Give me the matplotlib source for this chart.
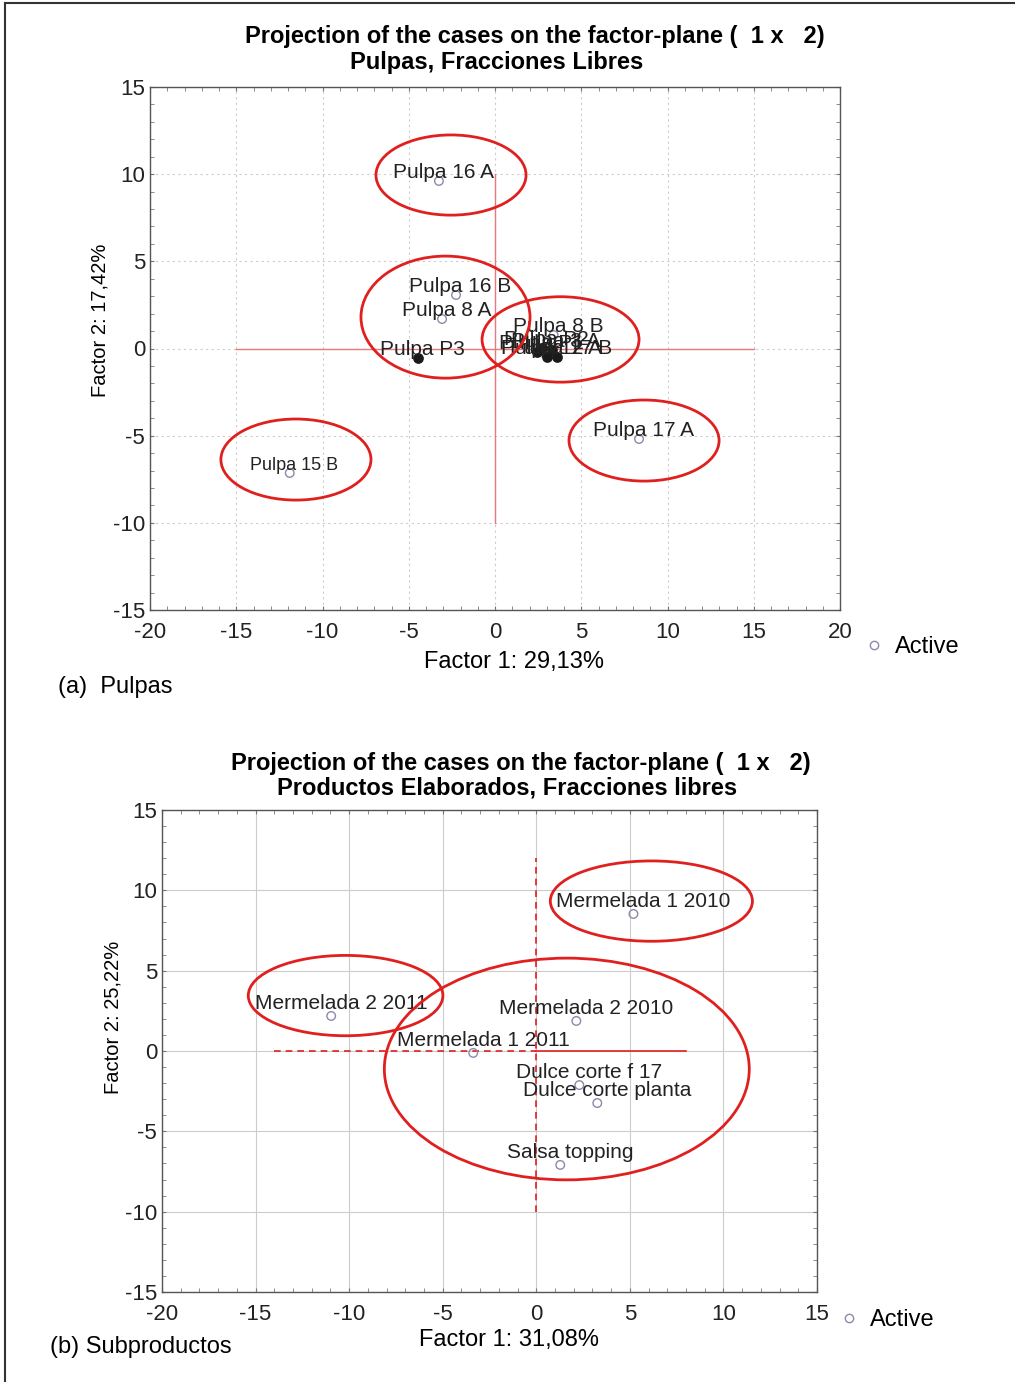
import matplotlib
matplotlib.use("Agg")
import matplotlib.pyplot as plt
from matplotlib.patches import Ellipse
from matplotlib.lines import Line2D
from matplotlib.ticker import MultipleLocator

plt.rcParams['font.family'] = ['Liberation Sans', 'DejaVu Sans']
plt.rcParams['axes.unicode_minus'] = False

# --- (a) Pulpas ---
pulp_open_names = ["Pulpa 16 A", "Pulpa 16 B", "Pulpa 8 A", "Pulpa 15 B", "Pulpa 17 A", "Pulpa 8 B"]
pulp_open_f1 = [-3.25, -2.26, -3.07, -11.9, 8.35, 3.4]
pulp_open_f2 = [9.61, 3.07, 1.69, -7.14, -5.19, 0.77]
pulp_fill_names = ["Pulpa P3", "Pulpa P1", "Pulpa 12 A", "Pulpa 17 B", "Pulpa 3 A", "Pulpa P2"]
pulp_fill_f1 = [-4.46, 2.43, 3.01, 3.59, 3.30, 2.72]
pulp_fill_f2 = [-0.55, -0.20, -0.49, -0.49, -0.09, 0.03]

# --- (b) Subproductos ---
sub_names = ["Mermelada 1 2010", "Mermelada 2 2011", "Mermelada 2 2010", "Mermelada 1 2011",
             "Dulce corte f 17", "Dulce corte planta", "Salsa topping"]
sub_f1 = [5.19, -10.96, 2.14, -3.37, 2.30, 3.26, 1.28]
sub_f2 = [8.53, 2.18, 1.87, -0.12, -2.12, -3.24, -7.09]

# highlight ellipses (center x, center y, width, height)
pulp_groups = [(-2.55, 9.95, 8.7, 4.6), (-2.87, 1.80, 9.8, 7.0), (3.80, 0.52, 9.1, 4.9),
               (-11.54, -6.37, 8.7, 4.65), (8.64, -5.28, 8.7, 4.65)]
sub_groups = [(6.15, 9.33, 10.8, 5.0), (-10.19, 3.45, 10.4, 5.0), (1.63, -1.12, 19.5, 13.8)]

W, H = 1015, 1382
fig = plt.figure(figsize=(W / 100, H / 100), dpi=100)

def fx(px):
    return px / W

def fy(py):
    return 1 - py / H

# frame around the figure (only top/left visible in the source)
fig.add_artist(Line2D([fx(5), 1], [fy(3), fy(3)], color='#333333', lw=1.5))
fig.add_artist(Line2D([fx(5), fx(5)], [0, fy(3)], color='#333333', lw=1.5))

OPEN_EDGE = '#8a8aaa'
RED = '#e01f1f'


def style_axes(ax, xlim, ylim, grid_ls):
    ax.set_xlim(*xlim)
    ax.set_ylim(*ylim)
    ax.xaxis.set_major_locator(MultipleLocator(5))
    ax.yaxis.set_major_locator(MultipleLocator(5))
    ax.xaxis.set_minor_locator(MultipleLocator(1))
    ax.yaxis.set_minor_locator(MultipleLocator(1))
    ax.tick_params(which='both', direction='in', top=True, right=True, length=3,
                   color='#777777', labelsize=16, labelcolor='#222222')
    ax.tick_params(axis='x', pad=9)
    ax.tick_params(axis='y', pad=3.5)
    ax.grid(True, which='major', color='#cccccc', ls=grid_ls, lw=0.8)
    for s in ax.spines.values():
        s.set_color('#555555')
        s.set_linewidth(1.0)
    ax.set_axisbelow(True)


# ---------------- top panel ----------------
ax1 = fig.add_axes([fx(150), fy(610), fx(840) - fx(150), fy(87) - fy(610)])
style_axes(ax1, (-20, 20), (-15, 15), (0, (2, 3)))
ax1.plot([-15, 15], [0, 0], color='#e87a7a', lw=1.0, zorder=1)
ax1.plot([0, 0], [-10, 10], color='#e87a7a', lw=1.0, zorder=1)
ax1.scatter(pulp_open_f1, pulp_open_f2, s=38, facecolors='none', edgecolors=OPEN_EDGE,
            linewidths=1.0, zorder=3)
ax1.scatter(pulp_fill_f1, pulp_fill_f2, s=45, color='#1a1a1a', zorder=3)
for name, x, y in zip(pulp_open_names + pulp_fill_names,
                      pulp_open_f1 + pulp_fill_f1, pulp_open_f2 + pulp_fill_f2):
    size = 13 if name == "Pulpa 15 B" else 15
    ax1.annotate(name, (x, y), xytext=(3, 2), textcoords='offset points',
                 ha='center', va='baseline', fontsize=size, color='#222222', zorder=4)
for cx, cy, w, h in pulp_groups:
    ax1.add_patch(Ellipse((cx, cy), w, h, fill=False, ec=RED, lw=2.0, zorder=5))

fig.text(fx(535), fy(36), "Projection of the cases on the factor-plane (  1 x   2)",
         ha='center', va='center', fontsize=17, fontweight='bold')
fig.text(fx(497), fy(62), "Pulpas, Fracciones Libres",
         ha='center', va='center', fontsize=17, fontweight='bold')
fig.text(fx(514), fy(662), "Factor 1: 29,13%", ha='center', va='center', fontsize=17)
fig.text(fx(100), fy(320), "Factor 2: 17,42%", ha='center', va='center', fontsize=14.5,
         rotation=90)
fig.text(fx(58), fy(687), "(a)  Pulpas", ha='left', va='center', fontsize=17)
h1 = Line2D([], [], ls='none', marker='o', mfc='none', mec=OPEN_EDGE, ms=6, label='Active')
fig.legend(handles=[h1], loc='center left', bbox_to_anchor=(fx(850), fy(647)),
           frameon=False, fontsize=17, handlelength=1.0, handletextpad=0.4, borderpad=0)

# ---------------- bottom panel ----------------
ax2 = fig.add_axes([fx(162), fy(1292), fx(817) - fx(162), fy(810) - fy(1292)])
style_axes(ax2, (-20, 15), (-15, 15), '-')
ax2.plot([-14, 0], [0, 0], color=RED, lw=1.2, ls=(0, (4, 3)), zorder=1)
ax2.plot([0, 8], [0, 0], color=RED, lw=1.2, zorder=1)
ax2.plot([0, 0], [-10, 12], color=RED, lw=1.2, ls=(0, (4, 3)), zorder=1)
ax2.scatter(sub_f1, sub_f2, s=38, facecolors='none', edgecolors=OPEN_EDGE,
            linewidths=1.0, zorder=3)
for name, x, y in zip(sub_names, sub_f1, sub_f2):
    ax2.annotate(name, (x, y), xytext=(7, 5), textcoords='offset points',
                 ha='center', va='baseline', fontsize=15, color='#222222', zorder=4)
for cx, cy, w, h in sub_groups:
    ax2.add_patch(Ellipse((cx, cy), w, h, fill=False, ec=RED, lw=2.0, zorder=5))

fig.text(fx(521), fy(764), "Projection of the cases on the factor-plane (  1 x   2)",
         ha='center', va='center', fontsize=17, fontweight='bold')
fig.text(fx(507), fy(788), "Productos Elaborados, Fracciones libres",
         ha='center', va='center', fontsize=17, fontweight='bold')
fig.text(fx(509), fy(1340), "Factor 1: 31,08%", ha='center', va='center', fontsize=17)
fig.text(fx(113), fy(1017), "Factor 2: 25,22%", ha='center', va='center', fontsize=14.5,
         rotation=90)
fig.text(fx(50), fy(1347), "(b) Subproductos", ha='left', va='center', fontsize=17)
h2 = Line2D([], [], ls='none', marker='o', mfc='none', mec=OPEN_EDGE, ms=6, label='Active')
fig.legend(handles=[h2], loc='center left', bbox_to_anchor=(fx(825), fy(1320)),
           frameon=False, fontsize=17, handlelength=1.0, handletextpad=0.4, borderpad=0)

fig.savefig("out.png", dpi=100)
